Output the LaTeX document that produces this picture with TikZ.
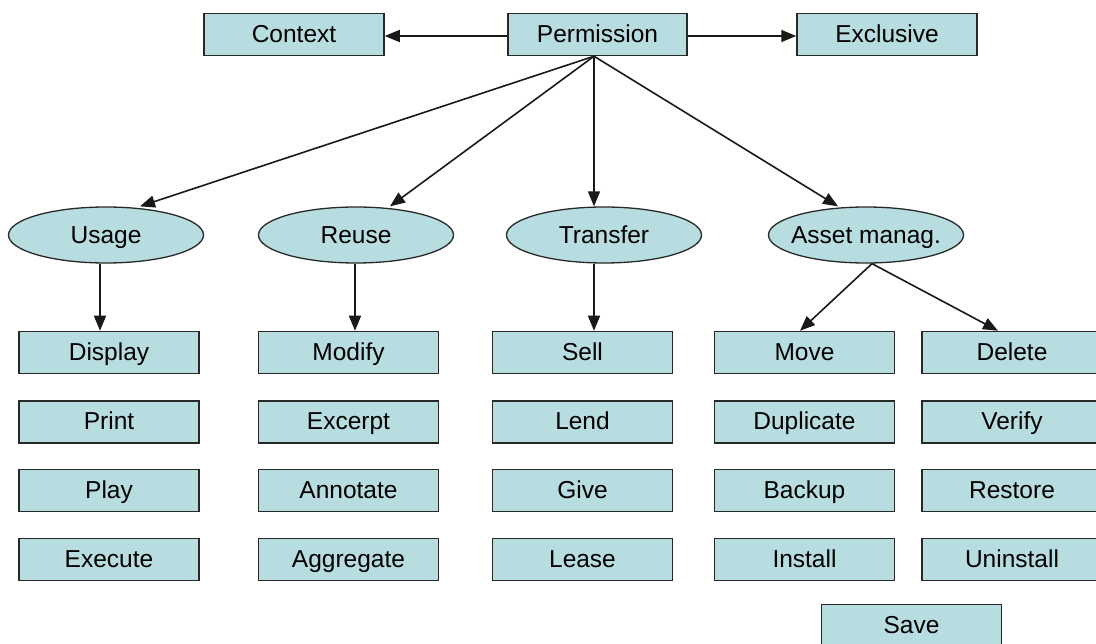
\documentclass[tikz,border=0pt]{standalone}
\usepackage{fontspec}
\setmainfont{Liberation Sans}
\usetikzlibrary{arrows.meta,shapes.geometric}
\definecolor{boxfill}{RGB}{183,221,224}
\definecolor{boxline}{RGB}{40,40,40}
\begin{document}
\begin{tikzpicture}[x=1pt,y=-1pt,
  every node/.style={font=\fontsize{24.5}{28}\selectfont,text=black},
  rbox/.style={draw=boxline,line width=1.5pt,fill=boxfill,minimum width=180pt,minimum height=42pt,inner sep=0pt,text height=17.5pt,text depth=2pt},
  ebox/.style={draw=boxline,line width=1.3pt,fill=boxfill,ellipse,minimum width=195pt,minimum height=56pt,inner ysep=0pt,inner xsep=-6pt,text height=17.5pt,text depth=1pt},
  conn/.style={line width=1.6pt,draw=black!90,-{Triangle[length=15pt,width=12pt]}}]
\clip (0,0) rectangle (1096,644);
\useasboundingbox (0,0) rectangle (1096,644);
% top row
\node[rbox] (context) at (294,34.5) {Context};
\node[rbox,minimum width=179pt] (perm) at (597.5,34.5) {Permission};
\node[rbox] (excl) at (887,34.5) {Exclusive};
% ellipses
\node[ebox] (usage) at (106,235) {Usage};
\node[ebox] (reuse) at (356,235) {Reuse};
\node[ebox] (transfer) at (604,235) {Transfer};
\node[ebox] (asset) at (866,235) {Asset manag.};
% column 1
\node[rbox] (display) at (109,352.5) {Display};
\node[rbox] (print) at (109,422) {Print};
\node[rbox] (play) at (109,490.5) {Play};
\node[rbox] (execute) at (109,559.5) {Execute};
% column 2
\node[rbox] (modify) at (348.5,352.5) {Modify};
\node[rbox] (excerpt) at (348.5,422) {Excerpt};
\node[rbox] (annotate) at (348.5,490.5) {Annotate};
\node[rbox] (aggregate) at (348.5,559.5) {Aggregate};
% column 3
\node[rbox] (sell) at (582.5,352.5) {Sell};
\node[rbox] (lend) at (582.5,422) {Lend};
\node[rbox] (give) at (582.5,490.5) {Give};
\node[rbox] (lease) at (582.5,559.5) {Lease};
% column 4
\node[rbox] (move) at (804.5,352.5) {Move};
\node[rbox] (duplicate) at (804.5,422) {Duplicate};
\node[rbox] (backup) at (804.5,490.5) {Backup};
\node[rbox] (install) at (804.5,559.5) {Install};
% column 5
\node[rbox] (delete) at (1012,352.5) {Delete};
\node[rbox] (verify) at (1012,422) {Verify};
\node[rbox] (restore) at (1012,490.5) {Restore};
\node[rbox] (uninstall) at (1012,559.5) {Uninstall};
% save
\node[rbox] (save) at (911.5,625.5) {Save};
% connectors
\draw[conn] ([yshift=-1.5pt]perm.west) -- ([yshift=-1.5pt]context.east);
\draw[conn] ([yshift=-1.5pt]perm.east) -- ([yshift=-1.5pt]excl.west);
\draw[conn] ([xshift=-3.5pt]perm.south) -- ([xshift=34pt]usage.north);
\draw[conn] ([xshift=-3.5pt]perm.south) -- ([xshift=34pt]reuse.north);
\draw[conn] ([xshift=-3.5pt]perm.south) -- ([xshift=-10pt]transfer.north);
\draw[conn] ([xshift=-3.5pt]perm.south) -- ([xshift=-28pt]asset.north);
\draw[conn] ([xshift=-6pt]usage.south) -- ([xshift=-9pt]display.north);
\draw[conn] ([xshift=-1pt]reuse.south) -- ([xshift=6.5pt]modify.north);
\draw[conn] ([xshift=-10pt]transfer.south) -- ([xshift=11.5pt]sell.north);
\draw[conn] ([xshift=6pt]asset.south) -- ([xshift=-4.5pt]move.north);
\draw[conn] ([xshift=6pt]asset.south) -- ([xshift=-14pt]delete.north);
\end{tikzpicture}
\end{document}
